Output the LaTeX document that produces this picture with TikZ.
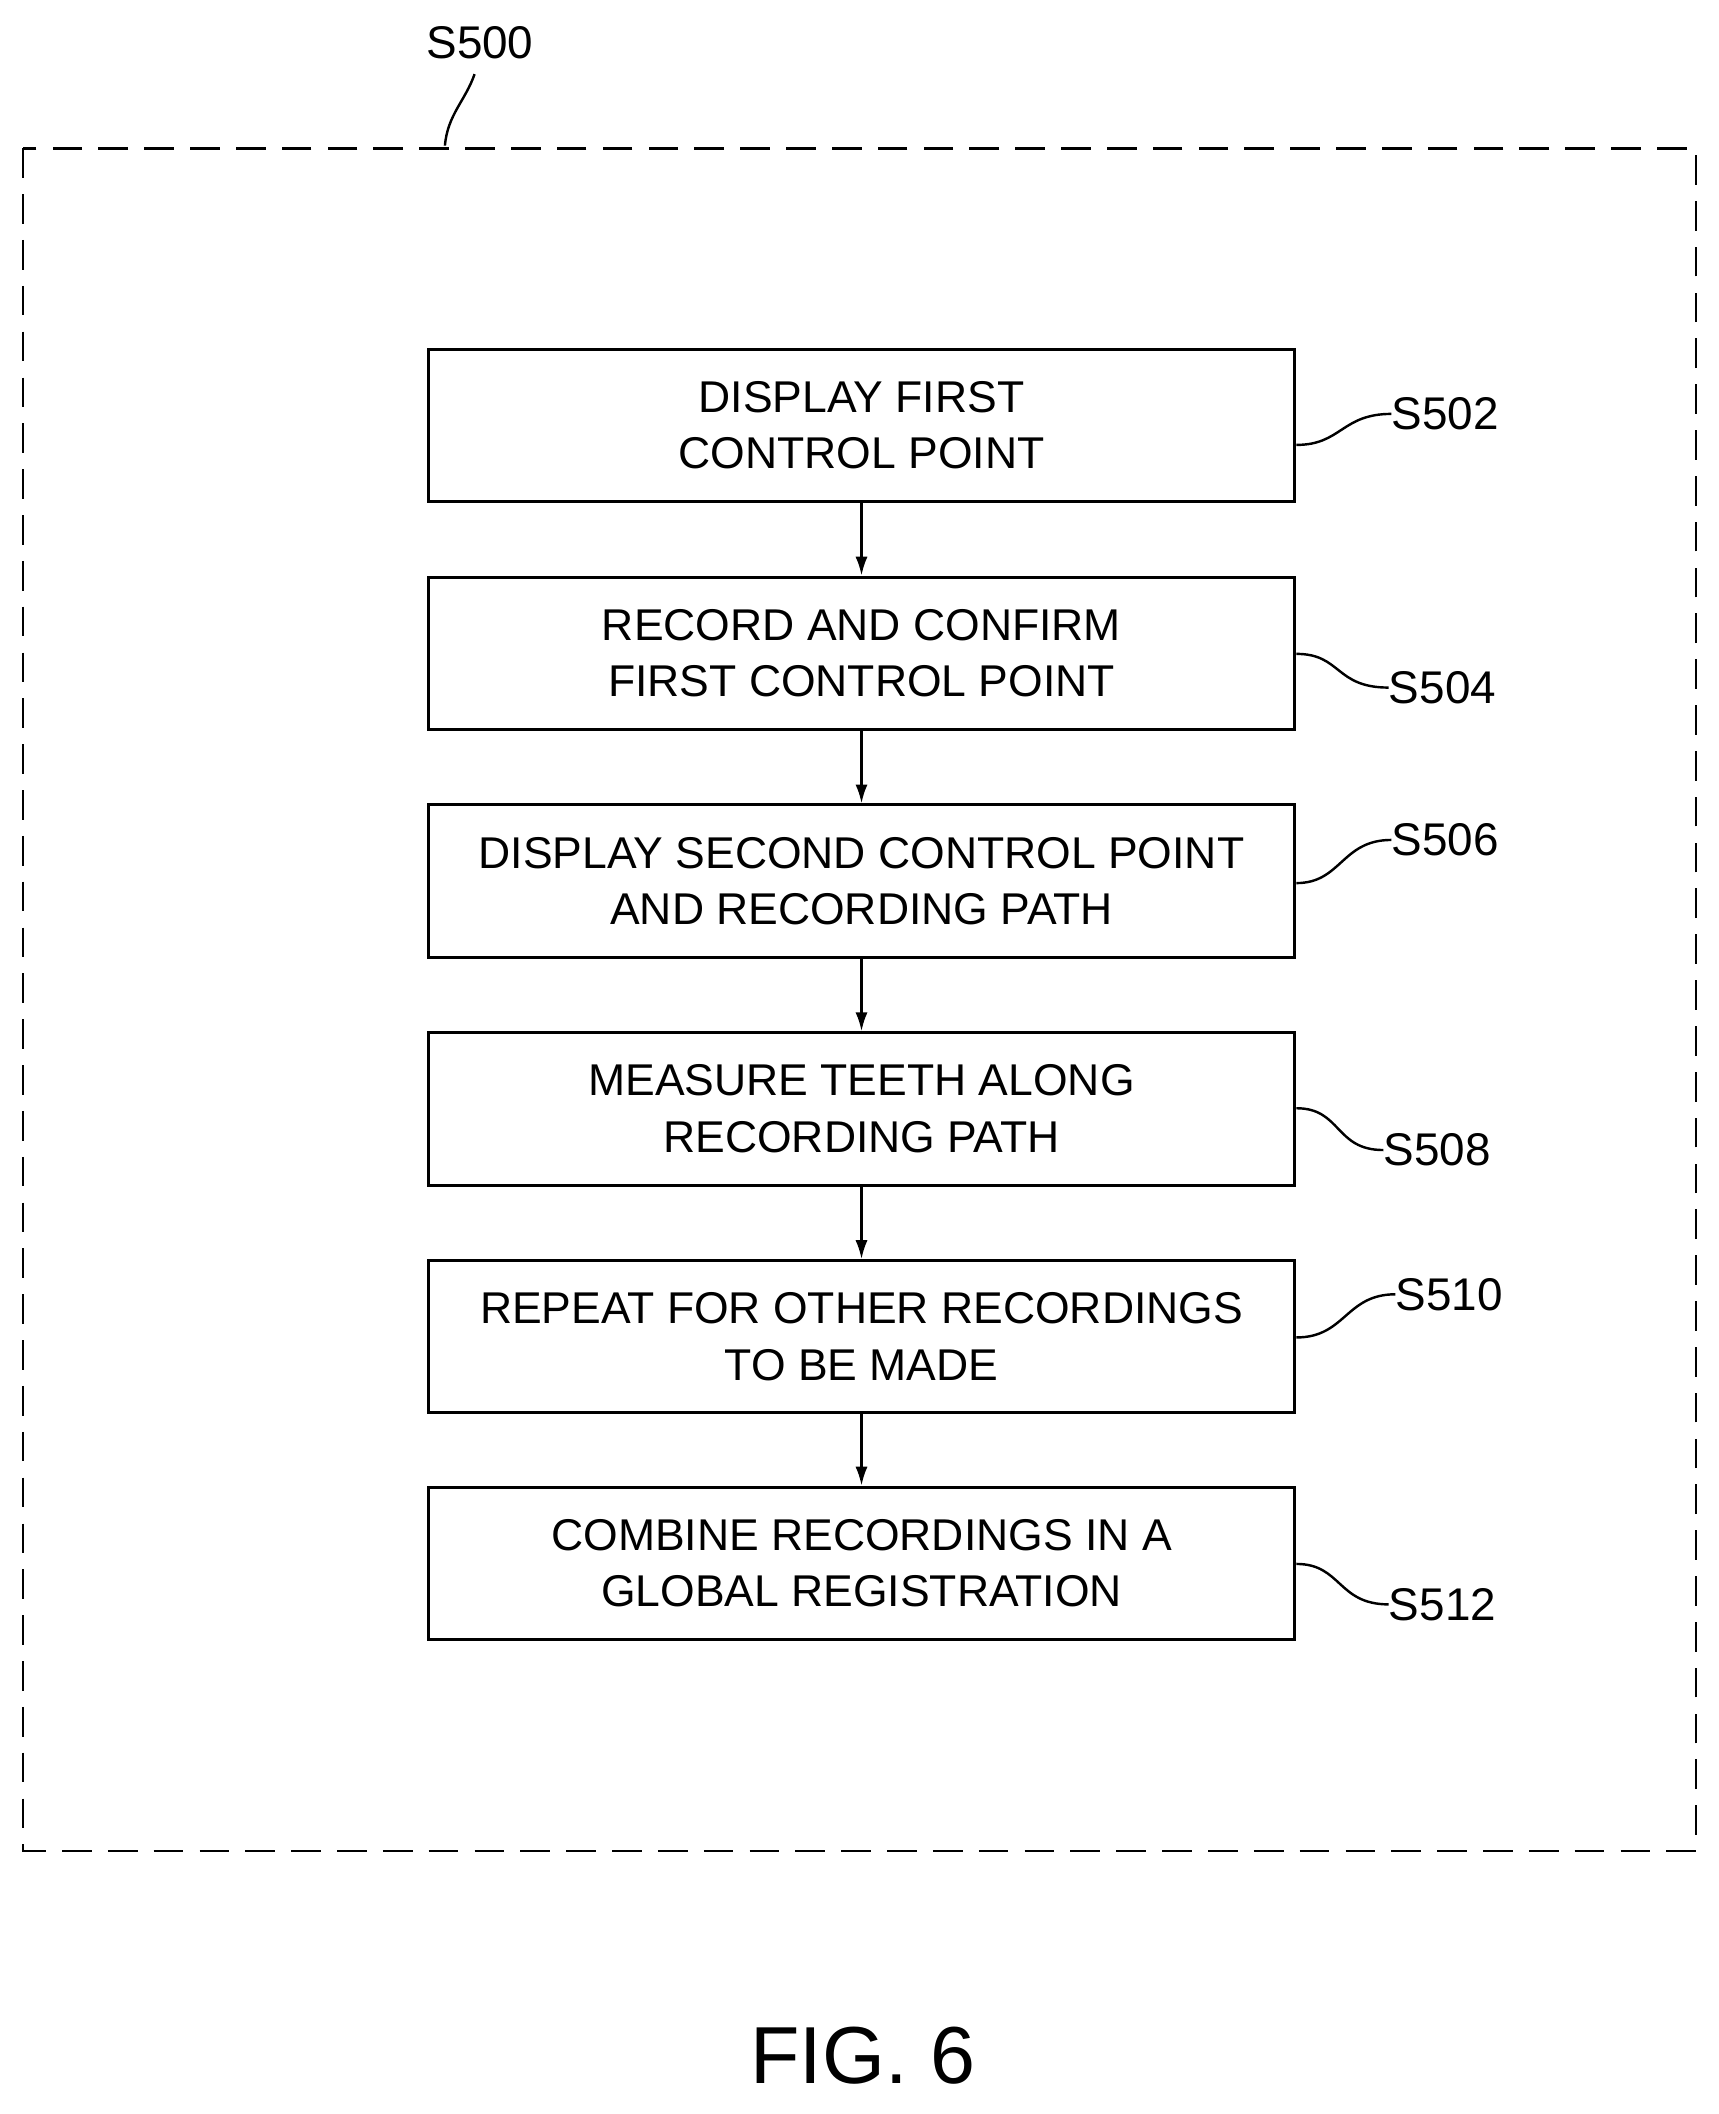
\documentclass[tikz,border=0pt]{standalone}
\usepackage{fontspec}
\setmainfont{Liberation Sans}
\begin{document}
\begin{tikzpicture}[x=1pt,y=-1pt,
  box/.style={draw,line width=2.2pt,minimum width=643pt,minimum height=113pt,align=center,font=\fontsize{33}{42}\selectfont,inner sep=0pt},
  lbl/.style={font=\fontsize{34}{40}\selectfont,anchor=west,inner sep=0pt},
  arr/.style={-{Latex[length=14pt,width=9pt]},line width=1.8pt},
  lead/.style={line width=1.8pt}]
\usetikzlibrary{arrows.meta}
\useasboundingbox (0,0) rectangle (1275,1568);
\draw[line width=2pt,dash pattern=on 22pt off 12pt] (17,110) rectangle (1258,1373);
\node[font=\fontsize{34}{40}\selectfont] (s500) at (356,32) {S500};
\coordinate (s500e) at (330,108);
\draw[lead] (352,55) .. controls (345,75) and (332,85) .. (s500e);
\node[box] (b1) at (639,315.5) {DISPLAY FIRST\\CONTROL POINT};
\node[box] (b2) at (639,484.5) {RECORD AND CONFIRM\\FIRST CONTROL POINT};
\node[box] (b3) at (639,653.5) {DISPLAY SECOND CONTROL POINT\\AND RECORDING PATH};
\node[box] (b4) at (639,822.5) {MEASURE TEETH ALONG\\RECORDING PATH};
\node[box] (b5) at (639,991.5) {REPEAT FOR OTHER RECORDINGS\\TO BE MADE};
\node[box] (b6) at (639,1159.5) {COMBINE RECORDINGS IN A\\GLOBAL REGISTRATION};
\foreach \a/\b in {b1/b2,b2/b3,b3/b4,b4/b5,b5/b6} \draw[arr] (\a) -- (\b);
\node[lbl] (l1) at (1032,307) {S502};
\node[lbl] (l2) at (1030,510) {S504};
\node[lbl] (l3) at (1032,623) {S506};
\node[lbl] (l4) at (1026,853) {S508};
\node[lbl] (l5) at (1035,960) {S510};
\node[lbl] (l6) at (1030,1190) {S512};
\draw[lead] (b1.east|-0,330) .. controls (995,330) and (995,307) .. (l1.west);
\draw[lead] (b2.east|-0,485) .. controls (995,485) and (990,510) .. (l2.west);
\draw[lead] (b3.east|-0,655) .. controls (995,655) and (995,623) .. (l3.west);
\draw[lead] (b4.east|-0,822) .. controls (995,822) and (990,853) .. (l4.west);
\draw[lead] (b5.east|-0,992) .. controls (998,992) and (998,960) .. (l5.west);
\draw[lead] (b6.east|-0,1160) .. controls (995,1160) and (992,1190) .. (l6.west);
\node[font=\fontsize{60}{70}\selectfont] (fig) at (640,1525) {FIG. 6};
\end{tikzpicture}
\end{document}
